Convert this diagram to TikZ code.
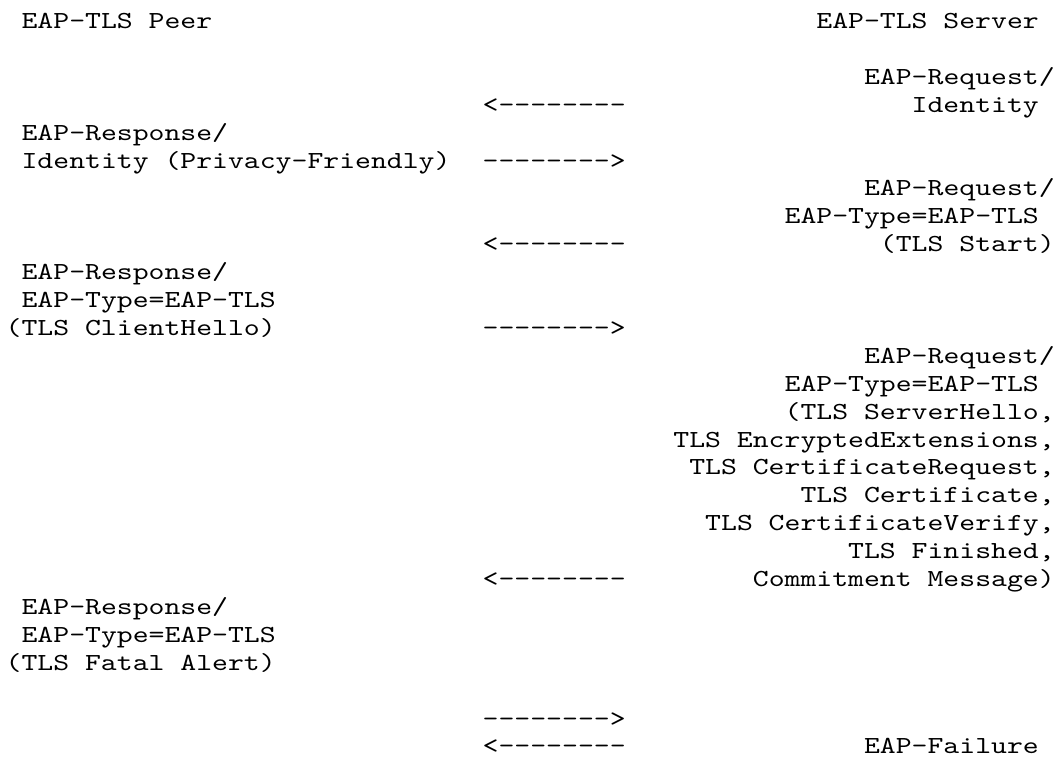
\documentclass[tikz,border=0pt]{standalone}
\usepackage{fontspec}
% typewriter face, widened to a Courier-like pitch
\newfontfamily\rfcmono{lmmono10-regular.otf}[FakeStretch=1.235]

\begin{document}
\begin{tikzpicture}[x=15.9pt, y=-27.9pt,
    txt/.style={inner sep=0pt, font=\rfcmono\fontsize{24.5pt}{27.9pt}\selectfont},
    peer/.style={txt, anchor=base west},
    srv/.style={txt, anchor=base east},
    msg/.style={txt, anchor=base west}]
	% one unit = one character cell, one line
	\useasboundingbox (-5.5pt,28.5pt) rectangle (1054.5pt,-735.5pt);

	\node[peer] (peer) at (1,0) {EAP-TLS Peer};
	\node[srv] (server) at (65,0) {EAP-TLS Server};

	% identity round
	\node[srv] (req1) at (66,2) {EAP-Request/};
	\node[msg] (m1) at (30,3) {<--------};
	\node[srv] (reqid) at (65,3) {Identity};
	\node[peer] (resp1) at (1,4) {EAP-Response/};
	\node[peer] (respid) at (1,5) {Identity (Privacy-Friendly)};
	\node[msg] (m2) at (30,5) {-------->};

	% tls start
	\node[srv] (req2) at (66,6) {EAP-Request/};
	\node[srv] (type2) at (65,7) {EAP-Type=EAP-TLS};
	\node[msg] (m3) at (30,8) {<--------};
	\node[srv] (start) at (66,8) {(TLS Start)};

	% client hello
	\node[peer] (resp2) at (1,9) {EAP-Response/};
	\node[peer] (type3) at (1,10) {EAP-Type=EAP-TLS};
	\node[peer] (hello) at (0,11) {(TLS ClientHello)};
	\node[msg] (m4) at (30,11) {-------->};

	% server flight
	\node[srv] (req3) at (66,12) {EAP-Request/};
	\node[srv] (type4) at (65,13) {EAP-Type=EAP-TLS};
	\foreach \txt [count=\i from 14] in {{(TLS ServerHello,},{TLS EncryptedExtensions,},{TLS CertificateRequest,},{TLS Certificate,},{TLS CertificateVerify,},{TLS Finished,}}
		\node[srv] (hs\i) at (66,\i) {\txt};
	\node[msg] (m5) at (30,20) {<--------};
	\node[srv] (hs20) at (66,20) {Commitment Message)};

	% peer aborts
	\node[peer] (resp3) at (1,21) {EAP-Response/};
	\node[peer] (type5) at (1,22) {EAP-Type=EAP-TLS};
	\node[peer] (alert) at (0,23) {(TLS Fatal Alert)};
	\node[msg] (m6) at (30,25) {-------->};
	\node[msg] (m7) at (30,26) {<--------};
	\node[srv] (fail) at (65,26) {EAP-Failure};
\end{tikzpicture}
\end{document}
